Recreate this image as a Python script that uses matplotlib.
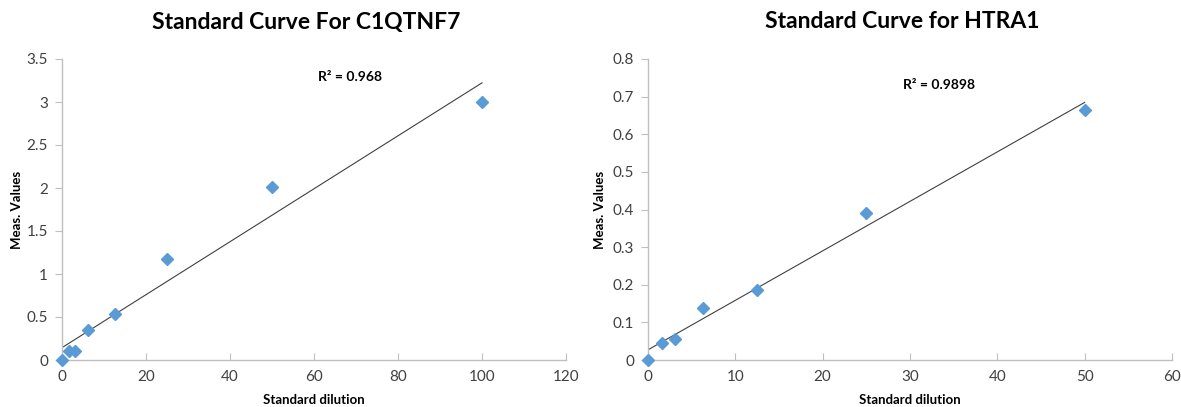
import numpy as np
import matplotlib
matplotlib.use("Agg")
import matplotlib.pyplot as plt

# Data
c1_x = [0, 1.5625, 3.125, 6.25, 12.5, 25, 50, 100]
c1_y = [0.0, 0.10, 0.10, 0.35, 0.53, 1.17, 2.01, 3.00]
c1_r2 = "R² = 0.968"

ht_x = [0, 1.5625, 3.125, 6.25, 12.5, 25, 50]
ht_y = [0.0, 0.045, 0.057, 0.139, 0.186, 0.392, 0.665]
ht_r2 = "R² = 0.9898"

c1_xticks = [0, 20, 40, 60, 80, 100, 120]
c1_yticks = [0, 0.5, 1, 1.5, 2, 2.5, 3, 3.5]
ht_xticks = [0, 10, 20, 30, 40, 50, 60]
ht_yticks = [0, 0.1, 0.2, 0.3, 0.4, 0.5, 0.6, 0.7, 0.8]

titles = ["Standard Curve For C1QTNF7", "Standard Curve for HTRA1"]
xlabel = "Standard dilution"
ylabel = "Meas. Values"

plt.rcParams['font.family'] = ['Lato', 'DejaVu Sans']

fig = plt.figure(figsize=(11.81, 4.07), dpi=100)
axL = fig.add_axes([62/1181, 47/407, 504/1181, 301/407])
axR = fig.add_axes([648/1181, 47/407, 524/1181, 301/407])

color = "#5B9BD5"
gray = "#BFBFBF"

def style(ax, x, y, xt, yt, title, r2, r2pos, title_x, ylab_x):
    ax.plot(x, y, linestyle='none', marker='D', ms=6, color=color, zorder=3, clip_on=False)
    m, b = np.polyfit(x, y, 1)
    xs = np.array([0, max(x)])
    ax.plot(xs, m * xs + b, color='#404040', lw=0.8, zorder=2)
    ax.set_xlim(xt[0], xt[-1])
    ax.set_ylim(yt[0], yt[-1])
    ax.set_xticks(xt)
    ax.set_yticks(yt)
    ax.set_xticklabels([f"{v:g}" for v in xt])
    ax.set_yticklabels([f"{v:g}" for v in yt])
    for s in ['top', 'right']:
        ax.spines[s].set_visible(False)
    for s in ['left', 'bottom']:
        ax.spines[s].set_color(gray)
        ax.spines[s].set_linewidth(1)
    ax.tick_params(axis='x', direction='in', length=5, color=gray, labelsize=11, labelcolor='#404040', pad=7)
    ax.tick_params(axis='y', direction='out', length=5, color=gray, labelsize=11, labelcolor='#404040', pad=5)
    ax.set_xlabel(xlabel, fontsize=9.5, fontweight='bold')
    ax.xaxis.set_label_coords(0.5, -(400 - 360) / 301, transform=ax.transAxes)
    ax.xaxis.label.set_va('center')
    ax.set_ylabel(ylabel, fontsize=9.5, fontweight='bold')
    ax.yaxis.set_label_coords(-(ylab_x) / (ax.get_position().width * 1181), 0.5, transform=ax.transAxes)
    ax.yaxis.label.set_va('center')
    ax.text(r2pos[0], r2pos[1], r2, transform=ax.transAxes, fontsize=10, fontweight='bold', ha='left', va='center')
    fig.text(title_x, 1 - 22/407, title, fontsize=16.5, fontweight='bold', ha='center', va='center')

style(axL, c1_x, c1_y, c1_xticks, c1_yticks, titles[0], c1_r2,
      ((318 - 62) / 504, (360 - 77) / 301), 306 / 1181, 62 - 17)
style(axR, ht_x, ht_y, ht_xticks, ht_yticks, titles[1], ht_r2,
      ((903 - 648) / 524, (360 - 85) / 301), 902 / 1181, 648 - 600)

fig.savefig("out.png", dpi=100)
